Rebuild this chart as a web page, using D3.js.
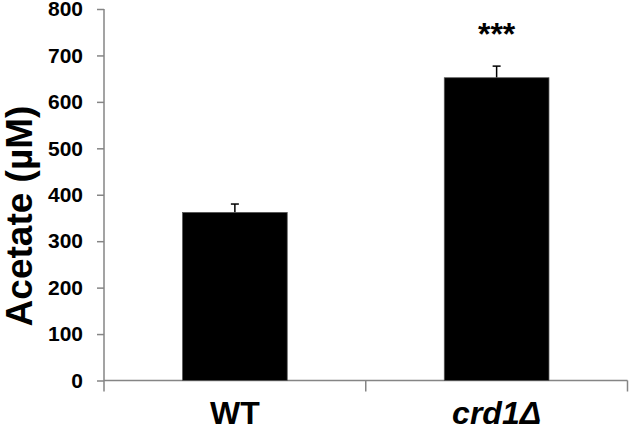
<!DOCTYPE html>
<html>
<head>
<meta charset="utf-8">
<script src="https://cdn.jsdelivr.net/npm/d3@7"></script>
<style>
  html, body { margin: 0; padding: 0; background: #fff; }
  svg { display: block; font-family: "Liberation Sans", Arial, sans-serif; }
</style>
</head>
<body>
<script>
const WIDTH = 633;
const HEIGHT = 428;

const categories = ['WT', 'crd1Δ'];
const means = [362, 652];
const errors = [18, 25];
const stars = ['', '***'];
const yTicks = [0, 100, 200, 300, 400, 500, 600, 700, 800];

const svg = d3.select('body')
  .append('svg')
  .attr('width', WIDTH)
  .attr('height', HEIGHT);

const x = d3.scaleBand()
  .domain(categories)
  .range([104, 627.5])
  .paddingInner(0.6)
  .paddingOuter(0.3);

const y = d3.scaleLinear()
  .domain([0, 800])
  .range([380.5, 9]);

const axisColor = '#858585';

// y axis
const yAxis = svg.append('g')
  .attr('transform', 'translate(104, 0)')
  .call(d3.axisLeft(y).tickValues(yTicks).tickSize(7).tickSizeOuter(0).tickPadding(14));
yAxis.select('.domain').remove();
yAxis.selectAll('.tick line').attr('stroke', axisColor).attr('stroke-width', 1.5);
yAxis.selectAll('.tick text')
  .attr('font-size', 21)
  .attr('font-weight', 'bold')
  .attr('fill', '#000');
yAxis.append('line')
  .attr('x1', 0).attr('x2', 0)
  .attr('y1', y(800)).attr('y2', y(0) + 11)
  .attr('stroke', axisColor).attr('stroke-width', 1.5);

// x axis: baseline with ticks at category boundaries
const xAxis = svg.append('g');
xAxis.append('line')
  .attr('x1', x.range()[0]).attr('x2', x.range()[1])
  .attr('y1', y(0)).attr('y2', y(0))
  .attr('stroke', axisColor).attr('stroke-width', 1.5);
const bounds = categories.map(c => x(c) + x.bandwidth() / 2 + x.step() / 2);
xAxis.selectAll('line.sep')
  .data(bounds)
  .enter().append('line')
    .classed('sep', true)
    .attr('x1', d => d).attr('x2', d => d)
    .attr('y1', y(0)).attr('y2', y(0) + 11)
    .attr('stroke', axisColor).attr('stroke-width', 1.5);
xAxis.selectAll('text')
  .data(categories)
  .enter().append('text')
    .attr('x', d => x(d) + x.bandwidth() / 2)
    .attr('y', 424)
    .attr('text-anchor', 'middle')
    .attr('font-size', 32)
    .attr('font-weight', 'bold')
    .attr('font-style', (d, i) => i === 1 ? 'italic' : 'normal')
    .text(d => d);

// y title
svg.append('text')
  .attr('transform', `translate(32, 216) rotate(-90)`)
  .attr('text-anchor', 'middle')
  .attr('font-size', 37)
  .attr('font-weight', 'bold')
  .text('Acetate (µM)');

const data = categories.map((c, i) => ({cat: c, mean: means[i], err: errors[i], star: stars[i]}));

// error bars (upper half)
const eb = svg.selectAll('g.err')
  .data(data)
  .enter().append('g')
    .classed('err', true);
eb.append('line')
  .attr('x1', d => x(d.cat) + x.bandwidth() / 2)
  .attr('x2', d => x(d.cat) + x.bandwidth() / 2)
  .attr('y1', d => y(d.mean))
  .attr('y2', d => y(d.mean + d.err))
  .attr('stroke', '#000').attr('stroke-width', 1.5);
eb.append('line')
  .attr('x1', d => x(d.cat) + x.bandwidth() / 2 - 4)
  .attr('x2', d => x(d.cat) + x.bandwidth() / 2 + 4)
  .attr('y1', d => y(d.mean + d.err))
  .attr('y2', d => y(d.mean + d.err))
  .attr('stroke', '#000').attr('stroke-width', 1.5);

// bars
svg.selectAll('rect.bar')
  .data(data)
  .enter().append('rect')
    .classed('bar', true)
    .attr('x', d => x(d.cat))
    .attr('y', d => y(d.mean))
    .attr('width', x.bandwidth())
    .attr('height', d => y(0) - y(d.mean))
    .attr('fill', '#000')
    .attr('stroke', '#555')
    .attr('stroke-width', 0.75);

// significance stars
svg.selectAll('text.star')
  .data(data)
  .enter().append('text')
    .classed('star', true)
    .attr('x', d => x(d.cat) + x.bandwidth() / 2)
    .attr('y', 45)
    .attr('text-anchor', 'middle')
    .attr('font-size', 32)
    .attr('font-weight', 'bold')
    .text(d => d.star);
</script>
</body>
</html>
